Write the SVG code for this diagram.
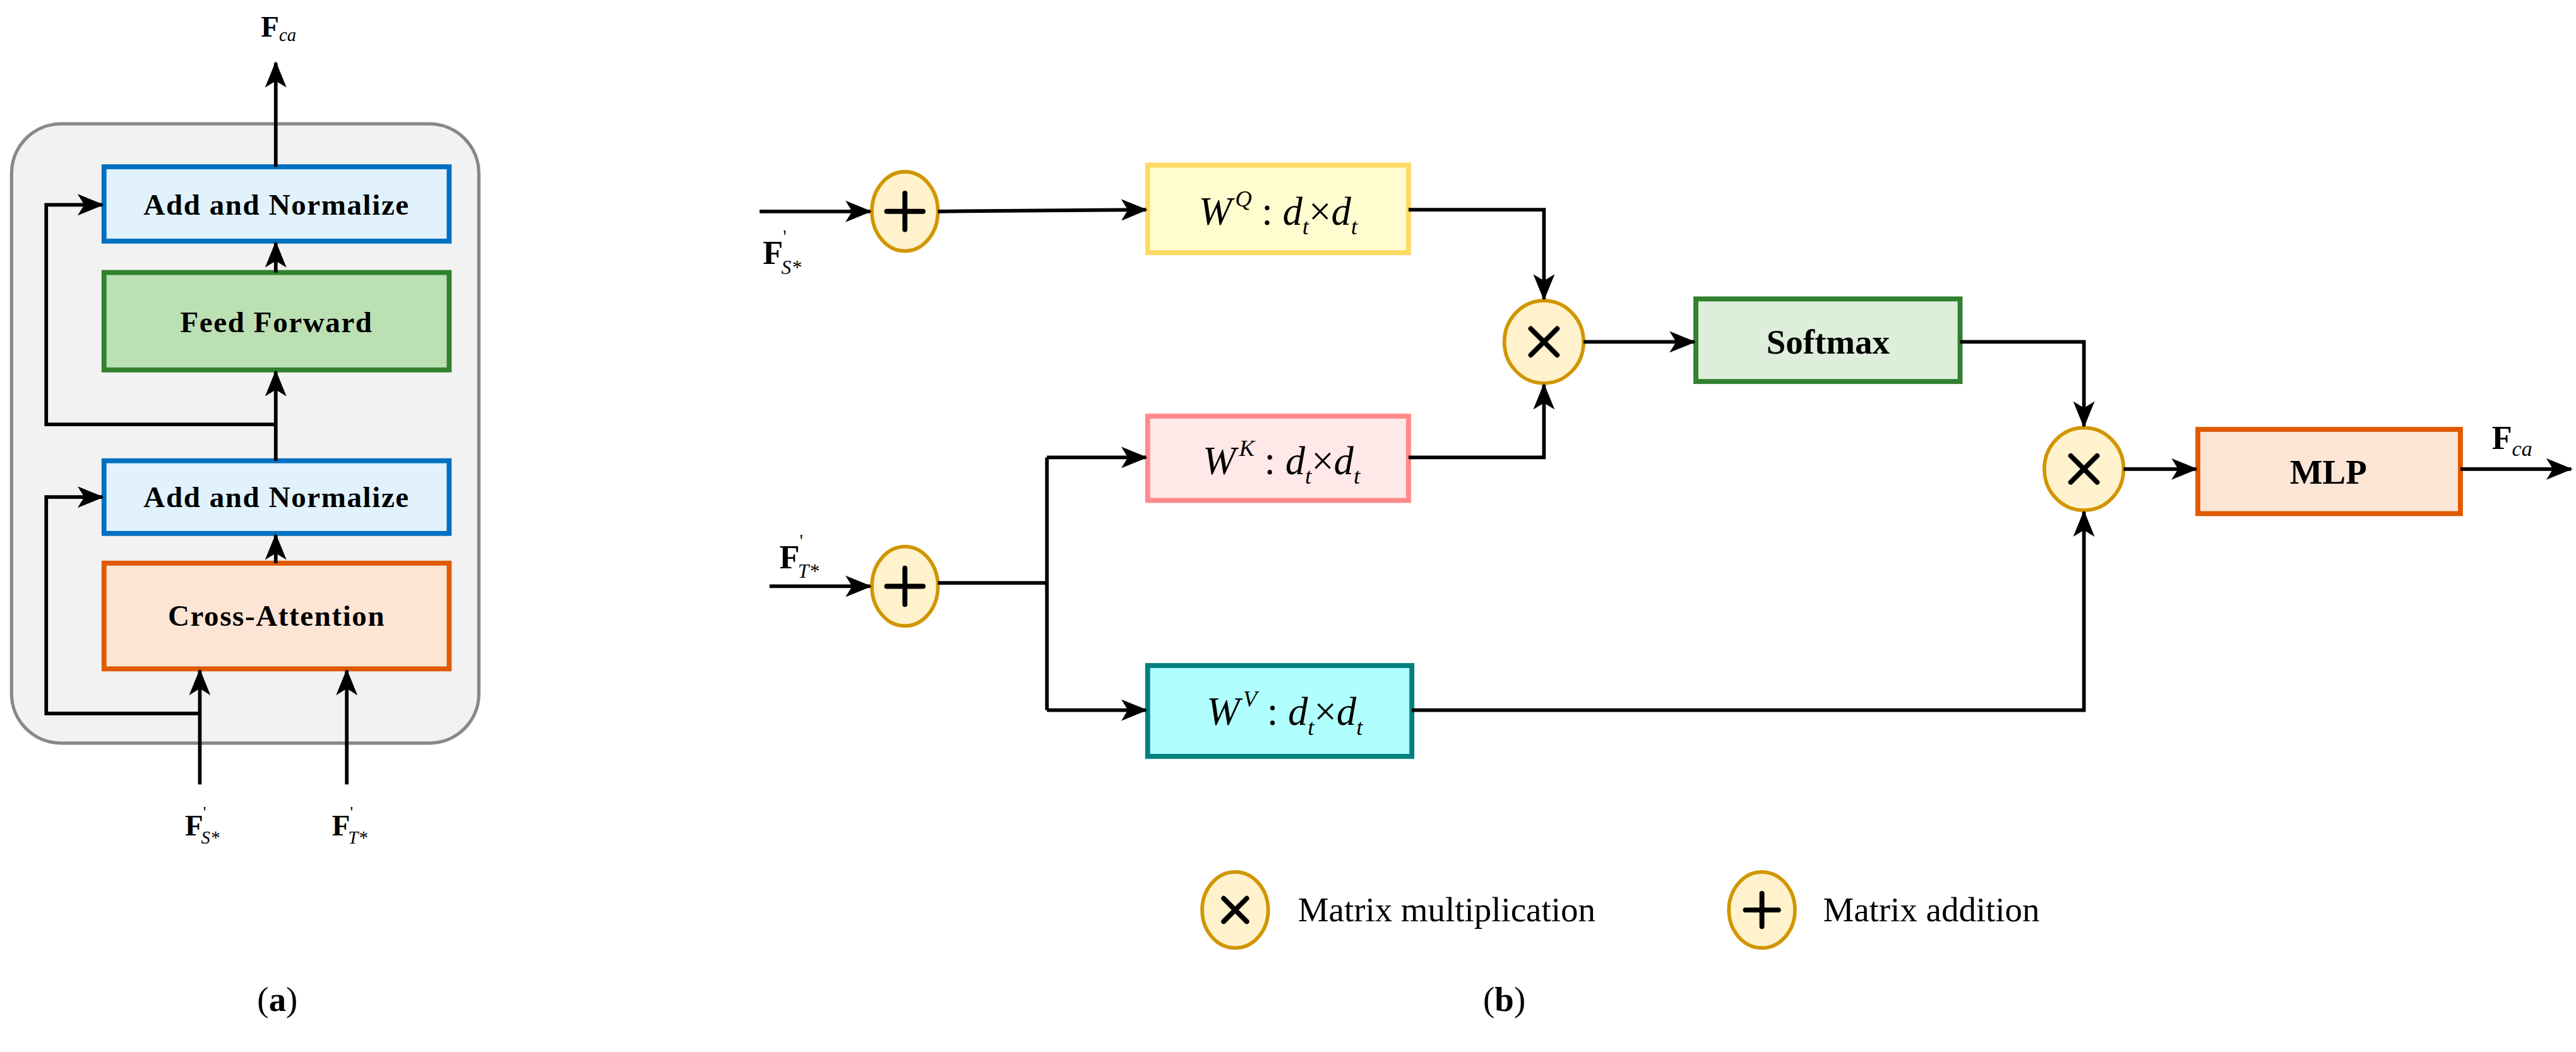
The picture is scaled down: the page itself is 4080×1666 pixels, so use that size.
<svg xmlns="http://www.w3.org/2000/svg" width="4080" height="1666" viewBox="0 0 4080 1666">
<defs>
<marker id="ah" markerWidth="16" markerHeight="13" refX="15" refY="6.5" orient="auto" markerUnits="userSpaceOnUse"><path d="M0,0 L16,6.5 L0,13 L4,6.5 Z" fill="#000"/></marker>
<style>
.ln{fill:none;stroke:#000;stroke-width:2.2}
.bx{stroke-width:3}
.t{font-family:"Liberation Serif",serif;fill:#000}
.b{font-weight:bold}
.op{fill:#fff2cc;stroke:#d09600;stroke-width:2.2}
.sym{stroke:#000;stroke-width:3;stroke-linecap:round;fill:none}
</style>
</defs>
<rect width="4080" height="1666" fill="#fff"/>
<g transform="scale(2.6154)">
<g id="panelA-frame"><rect x="7" y="75" width="283" height="375" rx="30" fill="#f2f2f2" stroke="#888" stroke-width="2"/></g>
<g id="an-top"><rect x="63" y="101" width="209" height="45" fill="#e1f2fd" stroke="#0070c0" class="bx"/><text class="t b" x="167.5" y="130" font-size="18" letter-spacing="0.6" text-anchor="middle">Add and Normalize</text></g>
<g id="ff"><rect x="63" y="165" width="209" height="59" fill="#bbe0b3" stroke="#31812f" class="bx"/><text class="t b" x="167.5" y="201" font-size="18" letter-spacing="0.6" text-anchor="middle">Feed Forward</text></g>
<g id="an-bot"><rect x="63" y="279" width="209" height="44" fill="#e1f2fd" stroke="#0070c0" class="bx"/><text class="t b" x="167.5" y="307" font-size="18" letter-spacing="0.6" text-anchor="middle">Add and Normalize</text></g>
<g id="ca"><rect x="63" y="341" width="209" height="64" fill="#fde5d5" stroke="#e05a00" class="bx"/><text class="t b" x="167.5" y="379" font-size="18" letter-spacing="0.6" text-anchor="middle">Cross-Attention</text></g>
<g id="labelsA">
<text class="t b" x="158" y="22" font-size="18">F<tspan font-weight="normal" font-style="italic" font-size="11" dy="3">ca</tspan></text>
<text class="t b" x="112" y="506" font-size="18">F<tspan font-weight="normal" font-size="10" dy="-11">'</tspan><tspan font-weight="normal" font-style="italic" font-size="11" dx="-3" dy="16">S*</tspan></text>
<text class="t b" x="201" y="506" font-size="18">F<tspan font-weight="normal" font-size="10" dy="-11">'</tspan><tspan font-weight="normal" font-style="italic" font-size="11" dx="-3" dy="16">T*</tspan></text>
<text class="t" x="168" y="612" font-size="21" text-anchor="middle">(<tspan font-weight="bold">a</tspan>)</text>
</g>
<g id="opQK"><ellipse class="op" cx="935" cy="207" rx="24" ry="25"/><path class="sym" d="M927,199 L943,215 M943,199 L927,215"/></g>
<g id="opOut"><ellipse class="op" cx="1262" cy="284" rx="24" ry="25"/><path class="sym" d="M1254,276 L1270,292 M1270,276 L1254,292"/></g>
<g id="plusS"><ellipse class="op" cx="548" cy="128" rx="20" ry="24"/><path class="sym" d="M537,128 L559,128 M548,117 L548,139"/></g>
<g id="plusT"><ellipse class="op" cx="548" cy="355" rx="20" ry="24"/><path class="sym" d="M537,355 L559,355 M548,344 L548,366"/></g>
<g id="wq"><rect x="695" y="100" width="158" height="53" fill="#fffcd0" stroke="#ffd966" class="bx"/><text class="t" x="774" y="136" font-size="24" text-anchor="middle" font-style="italic">W<tspan font-size="14" dx="2" dy="-11">Q</tspan><tspan dy="11" font-style="normal"> : </tspan>d<tspan font-size="14" dy="6">t</tspan><tspan dy="-6" font-style="normal">×</tspan>d<tspan font-size="14" dy="6">t</tspan></text></g>
<g id="wk"><rect x="695" y="252" width="158" height="51" fill="#ffe8e8" stroke="#ff8a8a" class="bx"/><text class="t" x="776" y="287" font-size="24" text-anchor="middle" font-style="italic">W<tspan font-size="14" dx="2" dy="-11">K</tspan><tspan dy="11" font-style="normal"> : </tspan>d<tspan font-size="14" dy="6">t</tspan><tspan dy="-6" font-style="normal">×</tspan>d<tspan font-size="14" dy="6">t</tspan></text></g>
<g id="wv"><rect x="695" y="403" width="160" height="55" fill="#b0fffe" stroke="#008080" class="bx"/><text class="t" x="778" y="439" font-size="24" text-anchor="middle" font-style="italic">W<tspan font-size="14" dx="2" dy="-11">V</tspan><tspan dy="11" font-style="normal"> : </tspan>d<tspan font-size="14" dy="6">t</tspan><tspan dy="-6" font-style="normal">×</tspan>d<tspan font-size="14" dy="6">t</tspan></text></g>
<g id="softmax"><rect x="1027" y="181" width="160" height="50" fill="#ddefda" stroke="#31812f" class="bx"/><text class="t b" x="1107" y="214" font-size="21" text-anchor="middle">Softmax</text></g>
<g id="mlp"><rect x="1331" y="260" width="159" height="51" fill="#fde5d5" stroke="#e05a00" class="bx"/><text class="t b" x="1410" y="293" font-size="21" text-anchor="middle">MLP</text></g>
<g id="labelsB">
<text class="t b" x="462" y="160" font-size="20">F<tspan font-weight="normal" font-size="11" dy="-13">'</tspan><tspan font-weight="normal" font-style="italic" font-size="12" dx="-3" dy="19">S*</tspan></text>
<text class="t b" x="472" y="344" font-size="20">F<tspan font-weight="normal" font-size="11" dy="-13">'</tspan><tspan font-weight="normal" font-style="italic" font-size="12" dx="-3" dy="19">T*</tspan></text>
<text class="t b" x="1509" y="272" font-size="20">F<tspan font-weight="normal" font-style="italic" font-size="13" dy="4">ca</tspan></text>
<text class="t" x="911" y="612" font-size="21" text-anchor="middle">(<tspan font-weight="bold">b</tspan>)</text>
</g>
<g id="legend">
<ellipse class="op" cx="748" cy="551" rx="20" ry="23"/><path class="sym" d="M741,544 L755,558 M755,544 L741,558"/>
<text class="t" x="786" y="558" font-size="21">Matrix multiplication</text>
<ellipse class="op" cx="1067" cy="551" rx="20" ry="23"/><path class="sym" d="M1057,551 L1077,551 M1067,541 L1067,561"/>
<text class="t" x="1104" y="558" font-size="21">Matrix addition</text>
</g>
<g id="connectors">
<path class="ln" d="M167,101 L167,38" marker-end="url(#ah)"/>
<path class="ln" d="M167,165 L167,147" marker-end="url(#ah)"/>
<path class="ln" d="M167,279 L167,225" marker-end="url(#ah)"/>
<path class="ln" d="M167,257 L28,257 L28,124 L62,124" marker-end="url(#ah)"/>
<path class="ln" d="M167,341 L167,324" marker-end="url(#ah)"/>
<path class="ln" d="M121,475 L121,406" marker-end="url(#ah)"/>
<path class="ln" d="M210,475 L210,406" marker-end="url(#ah)"/>
<path class="ln" d="M121,432 L28,432 L28,301 L62,301" marker-end="url(#ah)"/>
<path class="ln" d="M460,128 L527,128" marker-end="url(#ah)"/>
<path class="ln" d="M568,128 L694,127" marker-end="url(#ah)"/>
<path class="ln" d="M853,127 L935,127 L935,181" marker-end="url(#ah)"/>
<path class="ln" d="M853,277 L935,277 L935,233" marker-end="url(#ah)"/>
<path class="ln" d="M466,355 L527,355" marker-end="url(#ah)"/>
<path class="ln" d="M568,353 L634,353"/>
<path class="ln" d="M634,277 L634,430"/>
<path class="ln" d="M634,277 L694,277" marker-end="url(#ah)"/>
<path class="ln" d="M634,430 L694,430" marker-end="url(#ah)"/>
<path class="ln" d="M855,430 L1262,430 L1262,310" marker-end="url(#ah)"/>
<path class="ln" d="M959,207 L1026,207" marker-end="url(#ah)"/>
<path class="ln" d="M1187,207 L1262,207 L1262,258" marker-end="url(#ah)"/>
<path class="ln" d="M1286,284 L1330,284" marker-end="url(#ah)"/>
<path class="ln" d="M1490,284 L1557,284" marker-end="url(#ah)"/>
</g>
</g>
</svg>
